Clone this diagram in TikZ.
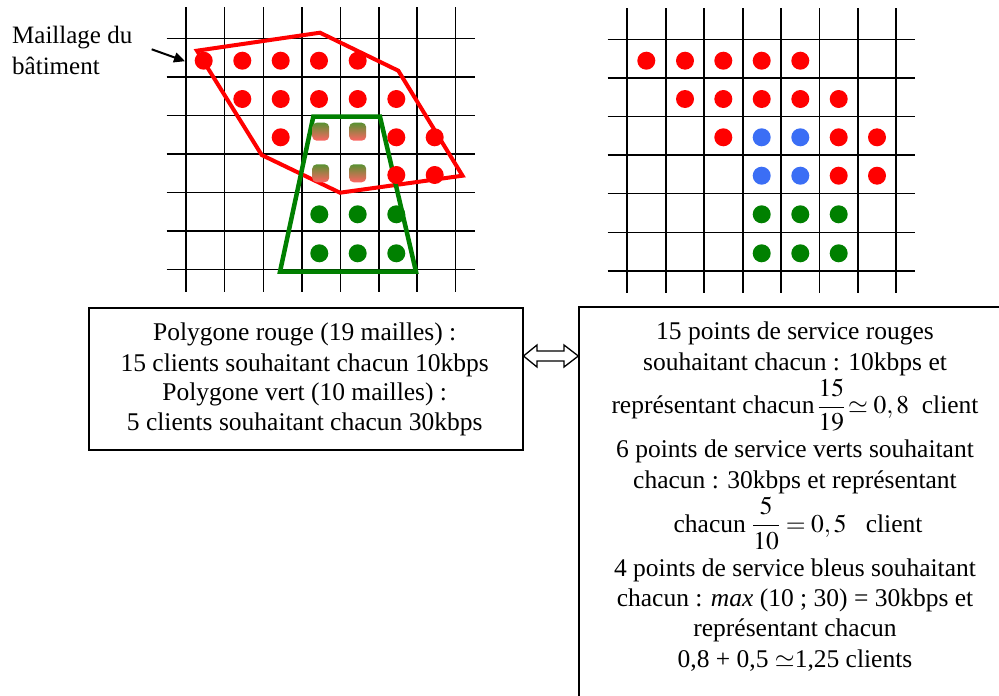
\documentclass[tikz,border=0pt]{standalone}
\usepackage{mathptmx}
\usepackage[no-math]{fontspec}
\setmainfont{Liberation Serif}
\usetikzlibrary{arrows.meta}
\definecolor{myred}{RGB}{255,0,0}
\definecolor{mygreen}{RGB}{0,128,0}
\definecolor{myblue}{RGB}{59,110,245}
\definecolor{mixtop}{RGB}{90,145,50}
\definecolor{mixmid}{RGB}{200,80,20}
\definecolor{mixbot}{RGB}{255,100,100}
\begin{document}
\begin{tikzpicture}[x=1pt,y=-1pt,
  gridline/.style={line width=1.6pt, black},
  dot/.style={circle, fill=#1, minimum size=18pt, inner sep=0pt, draw=none},
  mixdot/.style={rectangle, rounded corners=4.5pt, minimum width=17pt, minimum height=18pt, inner sep=0pt,
    top color=mixtop, middle color=mixmid, bottom color=mixbot},
  txt/.style={font=\fontsize{25.5}{30}\selectfont, inner sep=0pt, anchor=base},
  lbl/.style={font=\fontsize{25}{30}\selectfont, inner sep=0pt, anchor=base west},
  boxnode/.style={draw, line width=1.8pt, inner sep=0pt, anchor=north west},
]
\clip (0,0) rectangle (999,696);
\fill[white] (0,0) rectangle (999,696);

% ---- left grid ----
\foreach \x in {185.7,224.3,263.3,302,340.3,378.7,417,455.3}
  \draw[gridline] (\x,7) -- (\x,292);
\foreach \y in {38.3,76.7,115.3,153.7,192.3,230.7,269.3}
  \draw[gridline] (166.7,\y) -- (474.7,\y);

% ---- right grid ----
\foreach \x in {626.7,666,704,742.7,781,819.3,857.7,896}
  \draw[gridline] (\x,8) -- (\x,293);
\foreach \y in {39.3,77.7,116.3,155,193.3,232.3,271}
  \draw[gridline] (607.7,\y) -- (915,\y);

% ---- polygons ----
\draw[myred, line width=4pt, line join=miter]
  (197,50.7) -- (320,32.7) -- (398.3,70.7) -- (462.5,175.7) -- (340,192.7) -- (261.7,155) -- cycle;
\draw[mygreen, line width=4.5pt, line join=miter]
  (313.3,116.7) -- (380,116.7) -- (416,271.7) -- (280,271.7) -- cycle;

% ---- left dots ----
\foreach \x [count=\i] in {203.7,242.3,280.7,319,357.7}
  \node[dot=myred] (La\i) at (\x,60.7) {};
\foreach \x [count=\i] in {242.3,280.7,319,357.7,396.3}
  \node[dot=myred] (Lb\i) at (\x,99) {};
\foreach \x [count=\i] in {280.7,396.3,434.7}
  \node[dot=myred] (Lc\i) at (\x,137.3) {};
\foreach \x [count=\i] in {396.3,434.7}
  \node[dot=myred] (Ld\i) at (\x,175) {};
\foreach \x [count=\i] in {319.3,357.7,396.3}{
  \node[dot=mygreen] (Le\i) at (\x,214.3) {};
  \node[dot=mygreen] (Lf\i) at (\x,253.3) {};
}
\node[mixdot] (Lm1) at (320.7,131.7) {};
\node[mixdot] (Lm2) at (357.7,131.7) {};
\node[mixdot] (Lm3) at (320.7,173.3) {};
\node[mixdot] (Lm4) at (357.7,173.3) {};

% ---- right dots ----
\foreach \x [count=\i] in {646.3,685,723.3,761.7,800.3}
  \node[dot=myred] (Ra\i) at (\x,60.7) {};
\foreach \x [count=\i] in {685,723.3,761.7,800.3,838.7}
  \node[dot=myred] (Rb\i) at (\x,99) {};
\node[dot=myred] (Rc1) at (723.3,137.3) {};
\node[dot=myblue] (Rc2) at (761.7,137.3) {};
\node[dot=myblue] (Rc3) at (800.3,137.3) {};
\node[dot=myred] (Rc4) at (838.7,137.3) {};
\node[dot=myred] (Rc5) at (877,137.3) {};
\node[dot=myblue] (Rd1) at (761.7,175.7) {};
\node[dot=myblue] (Rd2) at (800.3,175.7) {};
\node[dot=myred] (Rd3) at (838.7,175.7) {};
\node[dot=myred] (Rd4) at (877,175.7) {};
\foreach \x [count=\i] in {761.7,800.3,838.7}{
  \node[dot=mygreen] (Re\i) at (\x,214.3) {};
  \node[dot=mygreen] (Rf\i) at (\x,253.3) {};
}

% ---- label with arrow ----
\node[lbl] (m1) at (12,43) {Maillage du};
\node[lbl] (m2) at (12,74) {bâtiment};
\coordinate (arrS) at (151.7,49.3);
\coordinate (arrE) at (185,61.2);
\draw[line width=2pt, -{Triangle[length=11pt,width=10pt]}] (arrS) -- (arrE);

% ---- boxes ----
\node[boxnode, minimum width=434pt, minimum height=142.3pt] (lbox) at (87.7,306.7) {};
\node[boxnode, minimum width=440pt, minimum height=420pt] (rbox) at (578.3,305.7) {};

\node[txt] (l1) at (304.7,340) {Polygone rouge (19 mailles) :};
\node[txt] (l2) at (304.7,371) {15 clients souhaitant chacun 10kbps};
\node[txt] (l3) at (304.7,400.5) {Polygone vert (10 mailles) :};
\node[txt] (l4) at (304.7,430.5) {5 clients souhaitant chacun 30kbps};

\node[txt] (r1) at (795,339) {15 points de service rouges};
\node[txt] (r2) at (795,370) {souhaitant chacun : 10kbps et};
\node[txt] (r3) at (795,413.5) {représentant chacun$\,\displaystyle\frac{15}{19}\!\simeq 0,8$\ \ client};
\node[txt] (r4) at (795,457) {6 points de service verts souhaitant};
\node[txt] (r5) at (795,488) {chacun : 30kbps et représentant};
\node[txt] (r6) at (798,532) {chacun $\displaystyle\frac{5}{10}=0,5$\ \ \ client};
\node[txt] (r7) at (795,576) {4 points de service bleus souhaitant};
\node[txt] (r8) at (795,606) {chacun : \textit{max} (10 ; 30) = 30kbps et};
\node[txt] (r9) at (795,636) {représentant chacun};
\node[txt] (r10) at (795,667) {0,8 + 0,5 $\simeq$1,25 clients};

% ---- double arrow between boxes ----
\draw[line width=1.3pt, fill=white, line join=miter]
  (lbox.east |- 0,356) -- (537,345) -- (537,351) -- (564,351) -- (564,345) -- (rbox.west |- 0,356)
  -- (564,367) -- (564,361) -- (537,361) -- (537,367) -- cycle;
\end{tikzpicture}
\end{document}
